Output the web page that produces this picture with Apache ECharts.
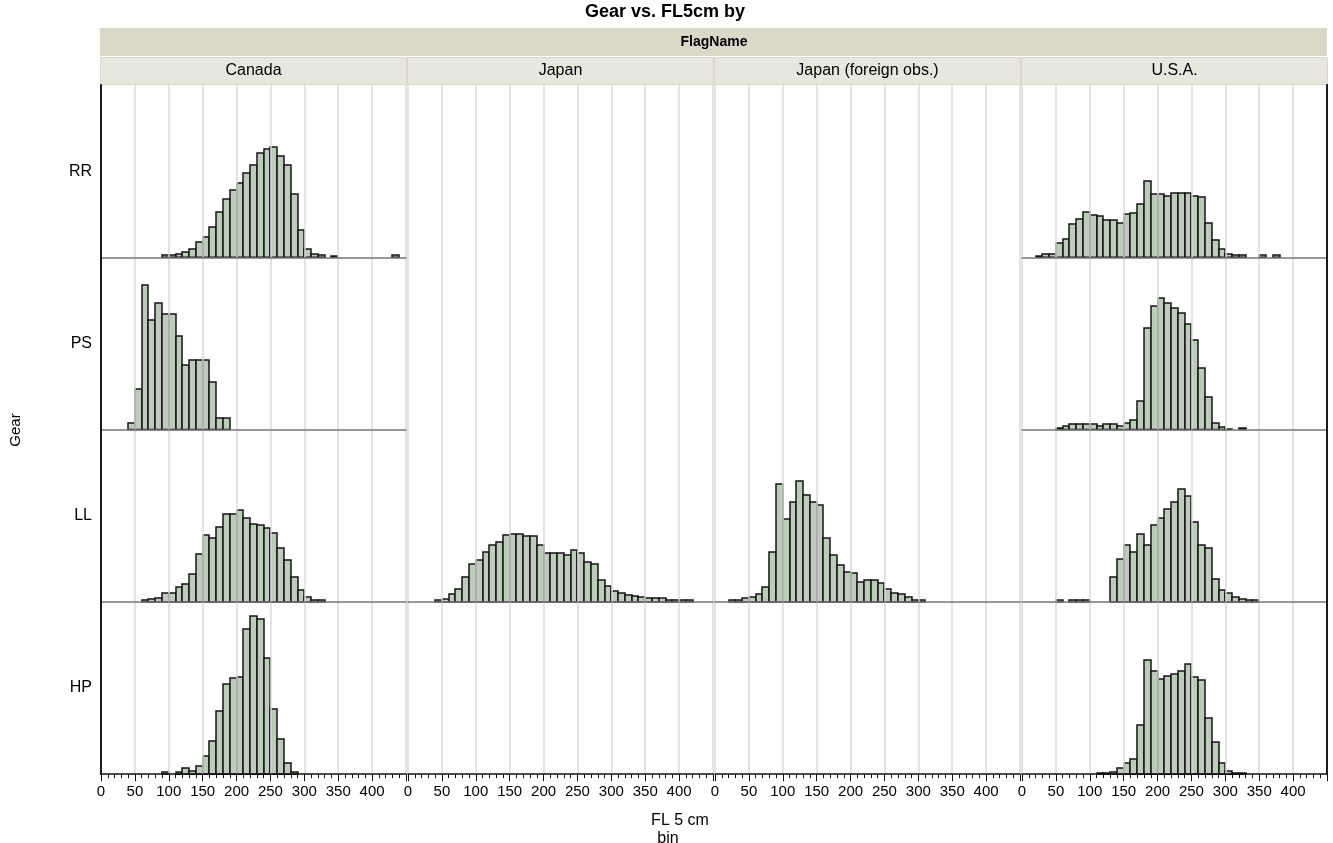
<!DOCTYPE html>
<html><head><meta charset="utf-8">
<script src="https://cdn.jsdelivr.net/npm/echarts@6/dist/echarts.min.js"></script>
<style>html,body{margin:0;padding:0;background:#fff}#c{width:1333px;height:843px}</style>
</head><body><div id="c"></div>
<script>
// ---- data ----
const flags = ['Canada', 'Japan', 'Japan (foreign obs.)', 'U.S.A.'];
const gears = ['RR', 'PS', 'LL', 'HP'];
const xTickLabels = [0, 50, 100, 150, 200, 250, 300, 350, 400];
const binWidth = 10;
// [bin start (FL), count]
const canadaRR = [[90,2],[100,2],[110,3.7],[120,5.3],[130,8],[140,15],[150,20],[160,30],[170,45.7],[180,58.7],[190,67],[200,74],[210,84],[220,92],[230,104],[240,108.7],[250,110],[260,101],[270,92.7],[280,63],[290,27],[300,8],[310,3.7],[320,2],[340,1.7],[430,2]];
const canadaPS = [[40,6.3],[50,40.3],[60,145],[70,109.7],[80,126.7],[90,115.3],[100,115.3],[110,93.3],[120,64.7],[130,70],[140,70],[150,70],[160,47.3],[170,11.7],[180,11.7]];
const canadaLL = [[60,1.7],[70,3],[80,4.3],[90,9],[100,9],[110,15],[120,17.7],[130,27.7],[140,47.7],[150,67.3],[160,64.3],[170,74.7],[180,88.3],[190,88.3],[200,91.7],[210,84],[220,78.3],[230,77],[240,74.3],[250,68.7],[260,53.7],[270,41.7],[280,25],[290,12],[300,5],[310,2],[320,2]];
const canadaHP = [[90,2.3],[110,2.3],[120,6.7],[130,3.7],[140,8.3],[150,18.3],[160,33.7],[170,63.7],[180,90.3],[190,96.3],[200,97.7],[210,145.7],[220,158.7],[230,155.3],[240,116],[250,65],[260,35],[270,11],[280,2.3]];
const japanLL = [[40,1.7],[50,3.3],[60,7.7],[70,13.3],[80,25],[90,37.7],[100,41.7],[110,50],[120,57.3],[130,60],[140,67.3],[150,68.3],[160,68.3],[170,65.7],[180,65.7],[190,57],[200,48.7],[210,48.7],[220,48.7],[230,47],[240,51.7],[250,48.7],[260,40.3],[270,37.7],[280,21.7],[290,16.3],[300,10.7],[310,9],[320,6.7],[330,6.3],[340,4.7],[350,3.7],[360,3.7],[370,3.7],[380,2.3],[390,2.3],[400,2.3],[410,2.3]];
const japanForeignLL = [[20,2],[30,2],[40,3.7],[50,5],[60,7.7],[70,14.7],[80,50],[90,118.3],[100,82.7],[110,100.3],[120,121.3],[130,106.7],[140,100],[150,96.7],[160,64.3],[170,47.3],[180,37.3],[190,30.3],[200,28.7],[210,20.3],[220,21.7],[230,21.7],[240,19],[250,13.3],[260,9.3],[270,8],[280,4.7],[290,2.3],[300,2.3]];
const usaRR = [[20,1.7],[30,3],[40,3],[50,14.7],[60,18.7],[70,33.3],[80,38.7],[90,45.7],[100,42.7],[110,41.3],[120,37.3],[130,37.3],[140,34.7],[150,43],[160,44.7],[170,53.3],[180,76.7],[190,63],[200,63],[210,61.3],[220,64.3],[230,64.3],[240,64.3],[250,61.3],[260,60],[270,34.7],[280,17.7],[290,8],[300,3.7],[310,2.3],[320,2.3],[350,2],[370,2]];
const usaPS = [[50,2],[60,3.7],[70,5.3],[80,5.3],[90,5.3],[100,5.3],[110,4],[120,5.3],[130,5.3],[140,3.7],[150,6.7],[160,9.7],[170,29],[180,101.7],[190,124],[200,131.3],[210,126.7],[220,121.7],[230,117],[240,105.7],[250,90],[260,61.3],[270,33],[280,6.7],[290,2.3],[300,1],[320,1.5]];
const usaLL = [[50,2],[70,2],[80,2],[90,2],[130,25],[140,43.3],[150,57.3],[160,50],[170,68.3],[180,57],[190,77],[200,84],[210,92.7],[220,100],[230,112.7],[240,105.7],[250,80],[260,57.3],[270,54.3],[280,23.3],[290,12],[300,9],[310,4.7],[320,3.3],[330,2.3],[340,2.3]];
const usaHP = [[110,1.3],[120,1.3],[130,2.3],[140,6.7],[150,11],[160,15.3],[170,49.3],[180,114.3],[190,103.3],[200,95.7],[210,98.7],[220,100],[230,103.3],[240,110.3],[250,97.3],[260,94.7],[270,56.7],[280,32],[290,11],[300,3.7],[310,1.3],[320,1.3]];

const cells = {
  'Canada|RR': canadaRR, 'Canada|PS': canadaPS, 'Canada|LL': canadaLL, 'Canada|HP': canadaHP,
  'Japan|LL': japanLL,
  'Japan (foreign obs.)|LL': japanForeignLL,
  'U.S.A.|RR': usaRR, 'U.S.A.|PS': usaPS, 'U.S.A.|LL': usaLL, 'U.S.A.|HP': usaHP
};

// ---- layout ----
const FONT = 'Liberation Sans, Arial, sans-serif';
const colLeft0 = 101, colPitch = 307, colW = 305;
const rowTop0 = 85, rowPitch = 172.3;
const xMax = 450, yMax = 172.3;

const grids = [], xAxes = [], yAxes = [], series = [];
gears.forEach((g, r) => {
  flags.forEach((f, c) => {
    const idx = r * 4 + c;
    const data = cells[f + '|' + g];
    const last = r === gears.length - 1;
    grids.push({left: colLeft0 + c * colPitch, top: rowTop0 + r * rowPitch, width: colW, height: rowPitch, containLabel: false, outerBoundsMode: 'none'});
    xAxes.push({
      gridIndex: idx, type: 'value', min: 0, max: xMax, interval: 50,
      axisLine: {show: last || !!data, onZero: false, lineStyle: {color: last ? '#111' : '#777', width: 1.5}},
      axisTick: {show: last, length: 7, lineStyle: {color: '#111', width: 1}},
      minorTick: {show: last, splitNumber: 5, length: 4, lineStyle: {color: '#111', width: 1}},
      axisLabel: {show: last, margin: 10, fontSize: 15, color: '#000', fontFamily: FONT,
        formatter: v => xTickLabels.indexOf(v) >= 0 ? String(v) : ''},
      splitLine: {show: true, lineStyle: {color: '#dadada', width: 1.5}},
      z: 3
    });
    yAxes.push({
      gridIndex: idx, type: 'value', min: 0, max: yMax,
      position: c === 3 ? 'right' : 'left',
      axisLine: {show: c === 0 || c === 3, onZero: false, lineStyle: {color: '#1a1a1a', width: 2}},
      axisTick: {show: false}, axisLabel: {show: false}, splitLine: {show: false},
      z: 6
    });
    if (data) {
      series.push({
        type: 'custom', xAxisIndex: idx, yAxisIndex: idx, data: data,
        encode: {x: 0, y: 1},
        renderItem: (params, api) => {
          const x0 = api.value(0), v = api.value(1);
          const p0 = api.coord([x0, v]);
          const p1 = api.coord([x0 + binWidth, 0]);
          const xa = Math.round(p0[0]), xb = Math.round(p1[0]);
          const ya = Math.round(p0[1]), yb = p1[1];
          return {type: 'rect', shape: {x: xa, y: ya, width: xb - xa, height: yb - ya},
            style: {fill: '#BDCBBB', stroke: '#141414', lineWidth: 1.5}};
        },
        z: 2
      });
    }
  });
});

const graphics = [
  {type: 'text', x: 665, y: 12, style: {text: 'Gear vs. FL5cm by', font: 'bold 18px ' + FONT, fill: '#000', align: 'center', verticalAlign: 'middle'}},
  {type: 'rect', shape: {x: 100, y: 28, width: 1227, height: 28}, style: {fill: '#DAD8C8'}},
  {type: 'text', x: 714, y: 42, style: {text: 'FlagName', font: 'bold 14px ' + FONT, fill: '#000', align: 'center', verticalAlign: 'middle'}}
];
flags.forEach((f, c) => {
  const x = colLeft0 + c * colPitch - 1;
  graphics.push({type: 'rect', shape: {x: x + 0.5, y: 57.5, width: colW + 1, height: 27}, style: {fill: '#E8E7DE', stroke: '#DAD8CA', lineWidth: 1}});
  graphics.push({type: 'text', x: x + colW / 2 + 1, y: 71, style: {text: f, font: '16px ' + FONT, fill: '#000', align: 'center', verticalAlign: 'middle'}});
});
gears.forEach((g, r) => {
  graphics.push({type: 'text', x: 92, y: rowTop0 + (r + 0.5) * rowPitch, style: {text: g, font: '16px ' + FONT, fill: '#000', align: 'right', verticalAlign: 'middle'}});
});
graphics.push({type: 'text', x: 16, y: 430, rotation: Math.PI / 2, style: {text: 'Gear', font: '15px ' + FONT, fill: '#000', align: 'center', verticalAlign: 'middle'}});
graphics.push({type: 'text', x: 680, y: 821, style: {text: 'FL 5 cm', font: '16px ' + FONT, fill: '#000', align: 'center', verticalAlign: 'middle'}});
graphics.push({type: 'text', x: 668, y: 839, style: {text: 'bin', font: '16px ' + FONT, fill: '#000', align: 'center', verticalAlign: 'middle'}});

const chart = echarts.init(document.getElementById('c'), null, {renderer: 'canvas'});
chart.setOption({
  animation: false,
  backgroundColor: '#fff',
  grid: grids, xAxis: xAxes, yAxis: yAxes, series: series,
  graphic: graphics
});
</script></body></html>
